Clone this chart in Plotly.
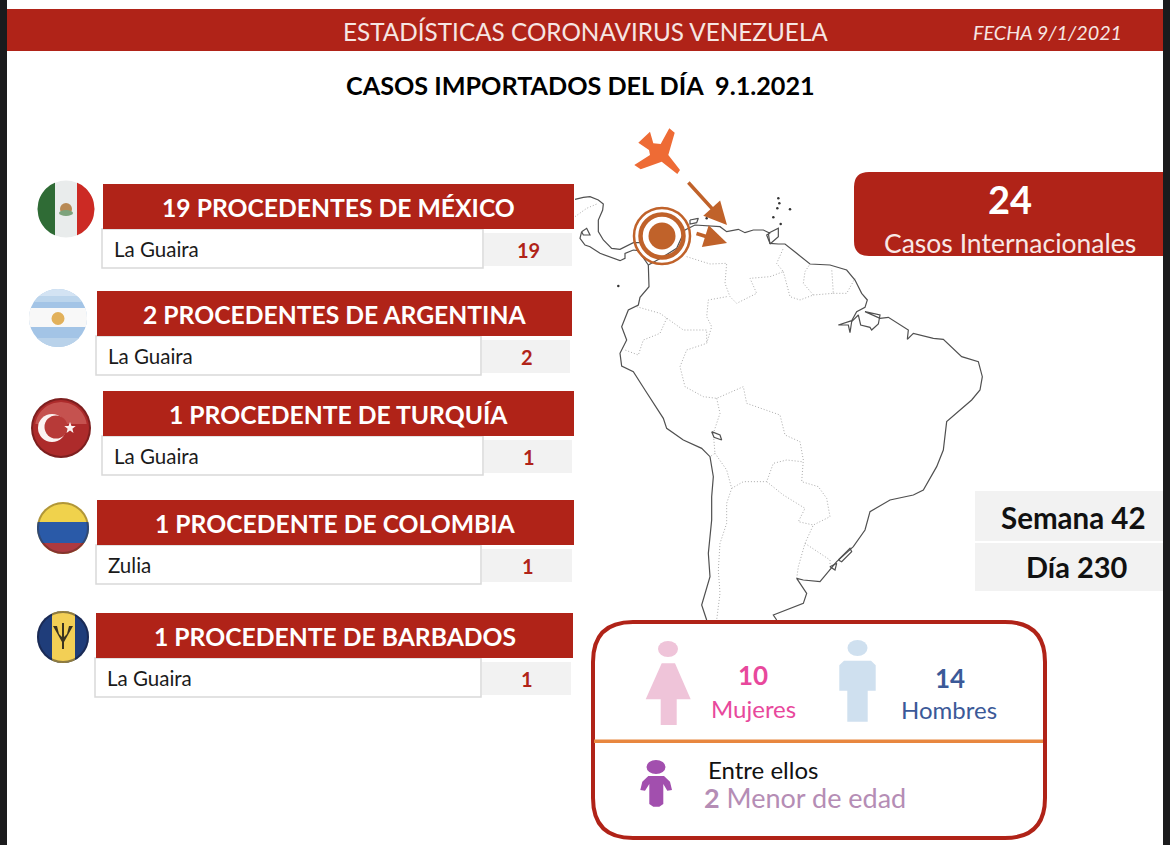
# Infographic: imported coronavirus cases in Venezuela, 9 Jan 2021

import numpy as np
import plotly.graph_objects as go


RED        = "#B02318"
ARROW      = "#C0622A"
DARK       = "#1b1b1d"
FONT       = "Lato"

HEADER_TITLE = "ESTADÍSTICAS CORONAVIRUS VENEZUELA"
HEADER_DATE  = "FECHA 9/1/2021"
MAIN_TITLE   = "CASOS IMPORTADOS DEL DÍA  9.1.2021"

ORIGINS = ["19 PROCEDENTES DE MÉXICO", "2 PROCEDENTES DE ARGENTINA", "1 PROCEDENTE DE TURQUÍA",
           "1 PROCEDENTE DE COLOMBIA", "1 PROCEDENTE DE BARBADOS"]
PLACES  = ["La Guaira", "La Guaira", "La Guaira", "Zulia", "La Guaira"]
COUNTS  = [19, 2, 1, 1, 1]

TOTAL_CASES = 24
WEEK        = 42
DAY         = 230
WOMEN       = 10
MEN         = 14
MINORS      = 2

# row boxes, picture pixels: red left/right/top, white right, text start
ROW_LEFT  = [103, 97, 103, 97, 96]
ROW_RIGHT = [574, 572, 574, 574, 573]
ROW_TOP   = [184, 291, 391, 500, 613]
ROW_SPLIT = [483, 481, 483, 481, 481]
TEXT_LEFT = [112, 106, 112, 106, 105]

# map outlines, in the pixels of a 3x crop that starts at (570, 120)
COAST_X = [235, 237, 210, 205, 175, 155, 170, 150, 155, 190, 225, 280, 290, 340, 395, 420, 430, 425, 425, 415, 420, 395, 410]
COAST_Y = [435, 500, 532, 555, 570, 620, 660, 700, 738, 755, 810, 895, 925, 960, 985, 1010, 1070, 1130, 1200, 1300, 1370, 1455, 1500]
ATLANTIC_X = [235, 280, 320, 345, 375, 450, 470, 505, 525, 550, 580, 600, 590, 600, 625, 645, 680, 720, 780, 830, 855, 875, 892,
              885, 860, 845, 805, 835, 840, 845, 865, 872, 900, 905, 925, 930, 885, 930, 955, 1015, 1012, 1030, 1090, 1120, 1175,
              1225, 1237, 1230, 1205, 1160, 1130, 1120, 1100, 1060, 1030, 960, 900, 885, 850, 800, 780, 750, 700, 680, 710, 700, 610, 620]
ATLANTIC_Y = [435, 410, 385, 330, 315, 320, 335, 328, 338, 330, 330, 340, 345, 370, 372, 372, 400, 432, 435, 450, 480, 520, 540,
              562, 575, 602, 615, 615, 638, 605, 585, 615, 622, 630, 612, 585, 575, 595, 592, 630, 658, 640, 655, 658, 710,
              725, 770, 810, 840, 880, 905, 990, 1040, 1110, 1125, 1140, 1175, 1230, 1280, 1325, 1350, 1385, 1380, 1375, 1420, 1450, 1485, 1500]
CENTRAL_TOP_X = [15, 40, 60, 85, 100, 98, 85, 85, 100, 125, 150, 190, 210]
CENTRAL_TOP_Y = [238, 232, 230, 240, 252, 270, 300, 335, 360, 385, 388, 368, 368]
CENTRAL_LOW_X = [35, 30, 45, 60, 90, 120, 150, 165, 165, 190, 205, 235]
CENTRAL_LOW_Y = [335, 355, 375, 380, 400, 410, 422, 415, 400, 390, 392, 435]

BORDERS = [
    ([15, 50, 85], [290, 265, 250]),
    ([350, 420, 470, 465, 480, 500, 560, 540, 600, 640, 620, 640],
     [410, 432, 430, 490, 530, 550, 520, 475, 470, 455, 430, 385]),
    ([470, 415, 410, 425, 410, 350, 330, 345, 400, 440, 520, 530, 630, 645, 690, 700, 695, 745, 770, 780, 730, 705, 685, 680],
     [530, 540, 590, 620, 670, 690, 740, 800, 830, 835, 800, 850, 885, 945, 965, 1020, 1085, 1100, 1135, 1190, 1215, 1270, 1340, 1375]),
    ([640, 660, 690, 730, 700, 705, 720], [455, 530, 540, 525, 490, 455, 432]),
    ([730, 790, 785], [525, 520, 445]),
    ([790, 830, 855], [520, 520, 475]),
    ([200, 270, 340, 410, 410], [560, 580, 630, 630, 670]),
    ([290, 270, 220, 205, 165], [595, 640, 660, 705, 690]),
    ([440, 450, 430, 435, 420], [835, 880, 940, 1000, 1010]),
    ([435, 470, 485, 470, 470, 450, 445, 450, 440], [1000, 1050, 1105, 1150, 1210, 1270, 1350, 1420, 1500]),
    ([485, 520, 590, 610, 650, 695], [1105, 1085, 1085, 1030, 1020, 1025]),
    ([590, 640, 705, 685, 730], [1085, 1125, 1165, 1205, 1215]),
    ([705, 780, 780], [1270, 1320, 1350]),
]
LAKES = [
    ([425, 450, 455, 432, 425], [935, 945, 960, 952, 935]),
    ([805, 840, 845, 815, 805], [1320, 1285, 1295, 1325, 1320]),
    ([780, 800, 795, 780], [1340, 1330, 1350, 1340]),
    ([360, 385, 380, 360, 360], [300, 295, 308, 312, 300]),
    ([595, 625, 625, 600, 595], [340, 325, 350, 372, 340]),
    ([35, 50, 60, 40, 35], [335, 325, 345, 345, 335]),
]
ISLAND_X = [625, 628, 622, 660, 610, 632, 145, 410]
ISLAND_Y = [235, 250, 265, 268, 292, 312, 498, 295]

PLANE_X = [240, 250, 272, 298, 314, 295, 330, 322, 275, 212, 193, 240, 237, 205]
PLANE_Y = [35, 70, 72, 25, 38, 105, 150, 162, 125, 148, 135, 105, 90, 68]

WOMAN_X = [215, 255, 302, 260, 260, 212, 212, 167]
WOMAN_Y = [130, 130, 238, 238, 315, 315, 238, 238]
MAN_X   = [762, 843, 857, 857, 833, 833, 772, 772, 748, 748]
MAN_Y   = [122, 122, 136, 212, 212, 305, 305, 212, 212, 136]
CHILD_X = [175, 222, 240, 246, 232, 220, 220, 208, 190, 178, 178, 165, 151, 157]
CHILD_Y = [468, 468, 485, 510, 512, 492, 552, 560, 560, 552, 492, 512, 510, 485]


def crop_x(values, left=570):
    return [left + v / 3 for v in values]


def crop_y(values, top=120):
    return [top + v / 3 for v in values]


def poly(xs, ys):
    return "M" + " L".join(f"{x:.1f},{y:.1f}" for x, y in zip(xs, ys)) + " Z"


def rounded(x0, y0, x1, y1, r, right=True):
    rr = r if right else 0
    return (f"M{x0 + r},{y0} L{x1 - rr},{y0} Q{x1},{y0} {x1},{y0 + rr} L{x1},{y1 - rr} Q{x1},{y1} {x1 - rr},{y1} "
            f"L{x0 + r},{y1} Q{x0},{y1} {x0},{y1 - r} L{x0},{y0 + r} Q{x0},{y0} {x0 + r},{y0} Z")


def h_band(cx, cy, r, top, bottom):
    # slice of a circle between two heights
    ys = np.linspace(max(top, cy - r), min(bottom, cy + r), 24)
    half = np.sqrt(np.maximum(r * r - (ys - cy) ** 2, 0))
    return poly(np.r_[cx - half, (cx + half)[::-1]], np.r_[ys, ys[::-1]])


def v_band(cx, cy, r, left, right):
    xs = np.linspace(max(left, cx - r), min(right, cx + r), 24)
    half = np.sqrt(np.maximum(r * r - (xs - cx) ** 2, 0))
    return poly(np.r_[xs, xs[::-1]], np.r_[cy - half, (cy + half)[::-1]])


def star(cx, cy, r):
    angles = np.deg2rad(np.arange(10) * 36 - 90)
    radii = np.where(np.arange(10) % 2 == 0, r, r * 0.42)
    return poly(cx + radii * np.cos(angles), cy + radii * np.sin(angles))


shapes = []
annotations = []


def fill(path, color, opacity=1):
    shapes.append(dict(type="path", path=path, fillcolor=color, line_width=0, opacity=opacity))


def rect(x0, y0, x1, y1, color, line=None):
    shapes.append(dict(type="rect", x0=x0, y0=y0, x1=x1, y1=y1, fillcolor=color,
                       line=dict(color=line or color, width=1.5 if line else 0)))


def disc(cx, cy, rx, ry, color=None, line=None, width=0):
    shapes.append(dict(type="circle", x0=cx - rx, x1=cx + rx, y0=cy - ry, y1=cy + ry,
                       fillcolor=color or "rgba(0,0,0,0)", line=dict(color=line or "rgba(0,0,0,0)", width=width)))


def text(x, y, label, size, color="#1a1a1a", anchor="center"):
    annotations.append(dict(x=x, y=y, text=label, showarrow=False, xanchor=anchor, yanchor="middle",
                            font=dict(family=FONT, size=size, color=color)))


fig = go.Figure()

# map lines go first so the boxes sit on top of them
for xs, ys in BORDERS:
    fig.add_trace(go.Scatter(x=crop_x(xs), y=crop_y(ys), mode="lines", line=dict(color="#aaaaaa", width=1, dash="1px,2px")))
for xs, ys in [(COAST_X, COAST_Y), (ATLANTIC_X, ATLANTIC_Y), (CENTRAL_TOP_X, CENTRAL_TOP_Y), (CENTRAL_LOW_X, CENTRAL_LOW_Y)] + LAKES:
    fig.add_trace(go.Scatter(x=crop_x(xs), y=crop_y(ys), mode="lines", line=dict(color="#505050", width=1.2)))
fig.add_trace(go.Scatter(x=crop_x(ISLAND_X), y=crop_y(ISLAND_Y), mode="markers", marker=dict(color="#333333", size=2.5)))

# page frame and header
rect(0, 0, 7, 845, DARK)
rect(1163, 0, 1170, 845, DARK)
rect(7, 9, 1163, 51, RED)
text(585, 31, HEADER_TITLE, 24.3, "#f6e6e3")
text(1047.5, 32, f"<i>{HEADER_DATE}</i>", 19.8, "#f6e6e3")
text(580.5, 85, f"<b>{MAIN_TITLE}</b>", 25.2, "#000000")

# origin rows
for i, origin in enumerate(ORIGINS):
    left, right, top, split = ROW_LEFT[i], ROW_RIGHT[i], ROW_TOP[i], ROW_SPLIT[i]
    rect(left - 1, top + 45, split, top + 84, "#ffffff", "#d9d9d9")
    rect(split + 1, top + 49, right - 2, top + 82, "#f2f2f2")
    rect(left, top, right, top + 45, RED)
    text((left + right) / 2, top + 23, f"<b>{origin}</b>", 24.7, "#ffffff")
    text(TEXT_LEFT[i], top + 65, PLACES[i], 20.5, anchor="left")
    text((split + right) / 2, top + 65.5, f"<b>{COUNTS[i]}</b>", 20, RED)

# flags
cx, cy, r = 66, 209, 28.5
disc(cx, cy, r, r, "#e9ecec")
fill(v_band(cx, cy, r, cx - r, cx - 11), "#2f6b35")
fill(v_band(cx, cy, r, cx + 11, cx + r), "#cc2a24")
disc(cx, cy, 6, 6, "#b88a55")
disc(cx, cy + 4, 7, 3, "#7da37c")

cx, cy, r = 58, 318, 29
disc(cx, cy, r, r, "#a3c4e6")
fill(h_band(cx, cy, r, cy - r, cy - 22), "#d3e3f3")
fill(h_band(cx, cy, r, cy - 22, cy - 16), "#bcd5ec")
fill(h_band(cx, cy, r, cy - 10, cy + 9), "#f8f8f8")
fill(h_band(cx, cy, r, cy + 20, cy + r), "#b9d2ea")
disc(cx, cy + 0.5, 6.5, 6.5, "#e2b15b")

cx, cy, r = 61, 428, 30
disc(cx, cy, r, r, "#7d1f1f")
disc(cx, cy, r - 2, r - 2, "#ad2b2b")
fill(h_band(cx, cy, r - 4, cy - r, cy - 4), "#d9736d", 0.55)
disc(52, 428, 14, 14, "#fbf3f2")
disc(56, 427, 11.5, 11.5, "#b73a38")
fill(star(70, 428, 6), "#fbf3f2")

cx, cy, r = 63, 528, 26
disc(cx, cy, r, r, "#f0d24c")
fill(h_band(cx, cy, r, cy - 6, cy + 15), "#2a5aa8")
fill(h_band(cx, cy, r, cy + 15, cy + r), "#ad3a40")
disc(cx, cy, r - 1, r - 1, None, "rgba(60,40,20,0.35)", 2)

cx, cy, r = 63, 637, 26
disc(cx, cy, r, r, "#1f3d7a")
fill(v_band(cx, cy, r, cx - 11, cx + 12), "#f3cf55")
fill(poly([cx - 10, cx - 6, cx - 4, cx - 1, cx - 1, cx + 1, cx + 1, cx + 4, cx + 6, cx + 10, cx + 1, cx + 1, cx - 1, cx - 1],
          [cy - 11, cy - 11, cy - 3, cy, cy - 14, cy - 14, cy, cy - 3, cy - 11, cy - 11, cy + 5, cy + 12, cy + 12, cy + 5]), "#3a3320")
disc(cx, cy, r - 1, r - 1, None, "rgba(20,20,40,0.45)", 2)

# plane and target over the map
fill(poly(crop_x(PLANE_X), crop_y(PLANE_Y)), "#ee6b35")
disc(662, 236, 28, 28, None, ARROW, 2.5)
disc(662, 236, 21.5, 21.5, None, ARROW, 4.5)
disc(662, 236, 13.5, 13.5, ARROW)
for x, y, ax, ay in [(727, 225, 687, 181), (727, 243, 695, 233)]:
    annotations.append(dict(x=x, y=y, ax=ax, ay=ay, xref="x", yref="y", axref="x", ayref="y", text="",
                            showarrow=True, arrowhead=2, arrowsize=1.3, arrowwidth=3.5, arrowcolor=ARROW))

# totals box
fill(rounded(854, 172, 1163, 256, 15, right=False), RED)
text(1010, 198.5, f"<b>{TOTAL_CASES}</b>", 38, "#ffffff")
text(1010, 243, "Casos Internacionales", 26.5, "#f8e8e6")

# week and day
rect(975, 491, 1163, 591, "#f2f2f2")
rect(975, 541, 1163, 543, "#ffffff")
text(1073.5, 517.5, f"<b>Semana {WEEK}</b>", 29.5, "#111111")
text(1076.5, 566.5, f"<b>Día {DAY}</b>", 29, "#111111")

# sex and age box
shapes.append(dict(type="path", path=rounded(593, 622, 1045, 838, 40), fillcolor="#ffffff",
                   line=dict(color=RED, width=4)))
rect(594, 739.5, 1043, 743, "#e8873f")
disc(668, 649, 10, 8, "#efc4d9")
fill(poly(crop_x(WOMAN_X, 590), crop_y(WOMAN_Y, 620)), "#efc4d9")
disc(857.5, 648, 10, 8, "#cfe0ef")
fill(poly(crop_x(MAN_X, 590), crop_y(MAN_Y, 620)), "#cfe0ef")
disc(656, 767, 9.5, 7, "#a24fae")
fill(poly(crop_x(CHILD_X, 590), crop_y(CHILD_Y, 620)), "#a24fae")
text(753, 675, f"<b>{WOMEN}</b>", 26, "#e8489c")
text(753, 708.5, "Mujeres", 24, "#e8489c")
text(950, 678, f"<b>{MEN}</b>", 26, "#3b5998")
text(949, 709.5, "Hombres", 24, "#3b5998")
text(706, 769, "Entre ellos", 24, "#111111", "left")
text(702, 797, f"<b>{MINORS}</b> Menor de edad", 27, "#b58db5", "left")

fig.update_layout(
    width=1170,
    height=845,
    margin=dict(l=0, r=0, t=0, b=0),
    paper_bgcolor="#ffffff",
    plot_bgcolor="#ffffff",
    showlegend=False,
    shapes=shapes,
    annotations=annotations,
    xaxis=dict(range=[0, 1170], visible=False, fixedrange=True),
    yaxis=dict(range=[845, 0], visible=False, fixedrange=True),
)

fig.write_html("out.html", config=dict(displayModeBar=False), post_script="document.body.style.margin = '0';")
